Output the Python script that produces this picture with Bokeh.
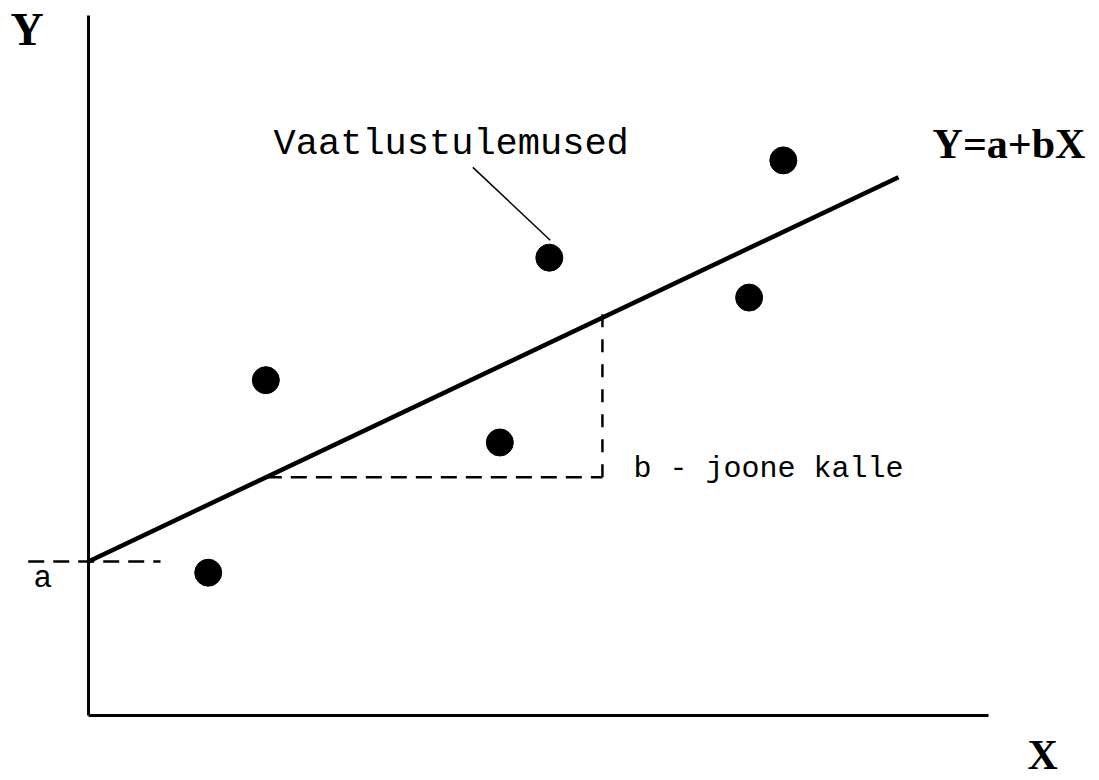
from bokeh.plotting import figure
from bokeh.models import Range1d, ColumnDataSource
from bokeh.core.properties import value
from bokeh.embed import file_html
from bokeh.resources import INLINE

# Observations
obs_x = [1.33, 1.97, 4.57, 5.12, 7.34, 7.72]
obs_y = [2.04, 4.79, 3.90, 6.54, 5.97, 7.93]

# Regression line Y = a + bX
a = 2.2
b = 0.61
line_x = [0.0, 9.0]

# Slope triangle
tri_x0 = 1.97
tri_x1 = 5.71

# Axis extents
axis_len_x = 10.0
axis_len_y = 10.0

p = figure(width=1099, height=780,
           x_range=Range1d(-0.978, 11.233), y_range=Range1d(-0.929, 10.214),
           output_backend="svg", toolbar_location=None,
           x_axis_location=None, y_axis_location=None,
           min_border=0, outline_line_color=None, background_fill_color="white")
p.grid.visible = False

# axes
p.line([0, axis_len_x], [0, 0], line_color="black", line_width=3)
p.line([0, 0], [0, axis_len_y], line_color="black", line_width=3)

# regression line
p.line(line_x, [a + b * x for x in line_x], line_color="black", line_width=4.5)

# intercept marker
p.line([-0.67, 0.8], [a, a], line_color="black", line_width=2.5, line_dash="16 9")

# slope triangle
y0 = a + b * tri_x0
y1 = a + b * tri_x1
p.line([tri_x0, tri_x1], [y0, y0], line_color="black", line_width=2.5, line_dash="16 9")
p.line([tri_x1, tri_x1], [y0, y1 + 0.2], line_color="black", line_width=2.5, line_dash="13 12")

# observations
p.scatter(obs_x, obs_y, size=27, color="black")

# leader from label to an observation
p.line([4.27, 5.13], [7.83, 6.79], line_color="black", line_width=1.5)

# labels
mono = ColumnDataSource(dict(
    x=[2.056, 6.056, -0.611],
    y=[8.157, 3.514, 1.957],
    t=["Vaatlustulemused", "b - joone kalle", "a"],
    s=["37px", "30px", "31px"],
))
p.text(x="x", y="y", text="t", text_font_size="s", source=mono,
       text_font=value("Liberation Mono"), text_color="black",
       text_baseline="alphabetic", text_align="left")

serif = ColumnDataSource(dict(
    x=[9.378, -0.867, 10.433],
    y=[8.171, 9.8, -0.57],
    t=["Y=a+bX", "Y", "X"],
    s=["42px", "46px", "42px"],
))
p.text(x="x", y="y", text="t", text_font_size="s", source=serif,
       text_font=value("Liberation Serif"), text_font_style="bold",
       text_color="black", text_baseline="alphabetic", text_align="left")

open("out.html", "w").write(file_html(p, INLINE))
